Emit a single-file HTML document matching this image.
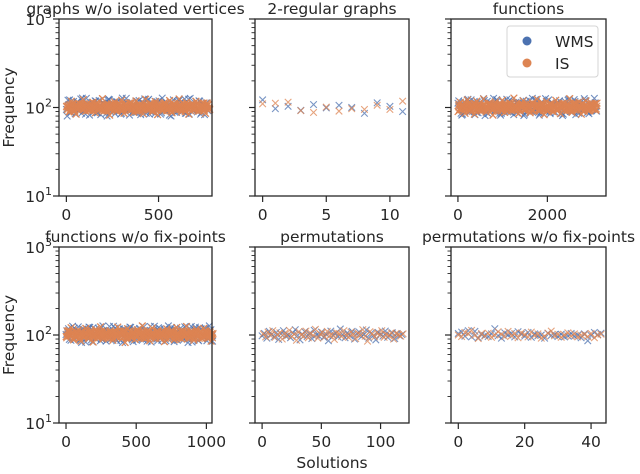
<!DOCTYPE html>
<html><head><meta charset="utf-8">
<style>
html,body{margin:0;padding:0;background:#fff;}
svg text{font-family:"DejaVu Sans","Liberation Sans",sans-serif;fill:#262626;}
</style></head>
<body>
<svg id="chart" width="640" height="469" viewBox="0 0 640 469" xmlns="http://www.w3.org/2000/svg"></svg>
<script>
// ---- data ----
const titles = ["graphs w/o isolated vertices","2-regular graphs","functions","functions w/o fix-points","permutations","permutations w/o fix-points"];
const xMaxes = [790, 11.5, 3311, 1040, 124, 44.5];
const xMins = [-40, -0.6, -155, -50, -6, -2.2];
const xTicks = [[0,500],[0,5,10],[0,2000],[0,500,1000],[0,50,100],[0,20,40]];
const xSteps = [13, 1, 52, 17.5, 2, 1];
const wms1 = [95,108,88,117,102,91,125,99,84,110,106,93,119,87,101,113,97,80,122,104,92,115,98,86,109,127,94,103,89,118,100,83,112,96,121,90,107,85,116,101,128,93,105,82,114,99,88,120,95,111,86,124,102,91,117,97,84,109,106,92];
const is1 = [103,89,118,97,84,112,100,123,91,106,95,115,87,108,99,126,93,110,82,104,116,90,101,121,86,107,96,113,88,119,94,102,85,124,98,111,90,117,83,105,100,114,92,120,87,109,97,125,89,103,115,84,106,95,118,91,101,112,86,108];
const wms2 = [122,97,103,93,108,99,106,100,86,113,103,90];
const is2 = [110,112,115,92,88,101,91,97,95,106,95,118];
const wms3 = [112,96,84,105,121,90,101,117,88,109,94,126,99,85,113,103,92,119,86,107,97,124,90,110,83,115,101,93,120,88,106,98,127,91,104,82,116,100,89,122,95,108,87,114,102,81,118,96,110,91,123,99,86,107,94,117,89,105,100,113];
const is3 = [90,115,101,86,122,97,108,84,118,93,104,125,89,111,99,82,116,95,107,121,88,102,113,92,128,98,85,109,119,94,103,87,114,100,124,91,106,83,117,96,110,89,121,99,85,112,104,93,126,88,107,97,115,84,102,119,92,108,95,111];
const wms4 = [101,118,87,110,95,124,90,106,83,115,99,121,92,108,86,127,97,112,89,104,120,94,109,82,116,100,123,88,105,96,119,91,113,85,107,98,126,90,111,87,117,102,93,122,84,106,95,114,89,110,99,125,92,103,86,118,97,108,91,115];
const is4 = [96,109,121,88,103,114,85,99,119,92,107,83,116,101,124,90,105,94,112,87,100,123,95,110,82,118,97,106,89,115,102,127,91,104,86,120,99,111,93,108,84,117,96,113,88,122,101,90,109,125,94,105,87,116,100,92,119,98,107,85];
const wms5 = [98,104,92,110,101,95,107,89,103,112,97,100,93,106,115,99,88,102,109,96,104,91,113,100,97,108,94,102,86,111,99,105,95,117,101,93,106,98,110,90,103,108,96,101,114,92,105,99,88,107,102,97,111,94,100,106,91,104,98,101];
const is5 = [103,95,108,99,112,94,101,106,90,104,98,113,96,102,87,109,100,97,111,93,105,99,116,92,103,107,95,110,98,101,89,106,104,96,112,99,94,108,102,91,105,100,115,97,85,109,103,95,107,99,112,94,102,98,106,90,104,101,97,103];
const wms6 = [104,108,97,112,95,110,93,101,99,96,103,118,98,92,106,100,104,95,109,102,97,107,94,103,98,100,92,105,99,101,96,102,95,98,104,97,100,93,103,86,99,107,101,105];
const is6 = [100,96,107,103,113,99,91,104,97,105,94,100,109,102,96,110,98,104,93,106,101,95,108,99,103,92,97,105,111,98,102,94,100,106,97,103,95,99,101,96,104,93,100,102];
const wmsSeries = [wms1,wms2,wms3,wms4,wms5,wms6];
const isSeries = [is1,is2,is3,is4,is5,is6];
const yTickExps = [1,2,3];
const seriesNames = ["WMS","IS"];

const NS = "http://www.w3.org/2000/svg";
const svg = document.getElementById('chart');
function mk(tag, attrs, parent){const e=document.createElementNS(NS,tag);for(const k in attrs)e.setAttribute(k,attrs[k]);(parent||svg).appendChild(e);return e;}
const BLUE="#4C72B0", ORANGE="#DD8452", INK="#262626";
const cols=[[59,212],[255,409],[451,606]];
const rows=[[19,196],[247,423]];

for(let p=0;p<6;p++){
  const [x0,x1]=cols[p%3], [y0,y1]=rows[Math.floor(p/3)];
  const g=mk('g',{});
  
  
  const xs=v=>x0+(v-xMins[p])/(xMaxes[p]-xMins[p])*(x1-x0);
  const ys=v=>y1-(Math.log10(v)-1)/2*(y1-y0);
  const dense=xSteps[p]>5;
  const drawSeries=(arr,color,off,name,op)=>{
    const sg=mk('g',{},g);
    
    
    arr.forEach((v,i)=>{
      const cx=xs(i*xSteps[p]+off), cy=ys(v), r=3.3;
      const m=mk('path',{d:`M${cx-r},${cy-r}L${cx+r},${cy+r}M${cx-r},${cy+r}L${cx+r},${cy-r}`,stroke:color,'stroke-width':1.1,opacity:op,fill:'none'},sg);
      
      
    });
  };
  if(dense){
    for(let k=0;k<3;k++){
      const rot=wmsSeries[p].slice(k*17).concat(wmsSeries[p].slice(0,k*17));
      drawSeries(rot,BLUE,xSteps[p]*k/3,'wms',0.8);
    }
    for(let k=0;k<8;k++){
      const src=k%2?isSeries[p]:wmsSeries[p];
      const s=(k*7)%src.length;
      const rot=src.slice(s).concat(src.slice(0,s)).map(v=>Math.sqrt(v*100));
      drawSeries(k<2?isSeries[p]:rot,ORANGE,xSteps[p]*k/8,'is',0.85);
    }
  } else {
    drawSeries(wmsSeries[p],BLUE,0,'wms',0.75);
    drawSeries(isSeries[p],ORANGE,xSteps[p]>1?xSteps[p]/2:0,'is',0.75);
  }
  const fr=mk('rect',{x:x0,y:y0,width:x1-x0,height:y1-y0,fill:'none',stroke:INK,'stroke-width':1.3},g);
  
  
  for(let e=1;e<=3;e++){
    const y=ys(Math.pow(10,e));
    mk('line',{x1:x0-6,x2:x0,y1:y,y2:y,stroke:INK,'stroke-width':1.2},g);
    if(e<3)for(let m=2;m<=9;m++){const yy=ys(m*Math.pow(10,e));mk('line',{x1:x0-3.5,x2:x0,y1:yy,y2:yy,stroke:INK,'stroke-width':0.9},g);}
  }
  if(p%3===0){
    yTickExps.forEach(e=>{
      const t=mk('text',{x:x0-7,y:ys(Math.pow(10,e))+6,'text-anchor':'end','font-size':15.5},g);
      
      
      t.textContent='10';
      const s=mk('tspan',{dy:-7,'font-size':11},t);s.textContent=String(e);
    });
    const yl=mk('text',{x:0,y:0,'text-anchor':'middle','font-size':15.5,transform:`translate(14,${(y0+y1)/2}) rotate(-90)`},g);
    
    
    yl.textContent='Frequency';
  }
  xTicks[p].forEach(v=>{
    const x=xs(v);
    mk('line',{x1:x,x2:x,y1:y1,y2:y1+6,stroke:INK,'stroke-width':1.2},g);
    const t=mk('text',{x:x,y:y1+24,'text-anchor':'middle','font-size':15.5},g);
    
    
    t.textContent=String(v);
  });
  const tt=mk('text',{x:(x0+x1)/2,y:y0-5,'text-anchor':'middle','font-size':15.5},g);
  
  
  tt.textContent=titles[p];
}
const xl=mk('text',{x:332,y:468,'text-anchor':'middle','font-size':15.5});


xl.textContent='Solutions';
const lg=mk('g',{});


mk('rect',{x:507,y:26,width:91,height:51,rx:3,fill:'#fff',stroke:'#d0d0d0','stroke-width':1,opacity:0.9},lg);
[[BLUE,41],[ORANGE,63]].forEach((c,i)=>{
  const en=mk('g',{},lg);
  
  
  mk('circle',{cx:527,cy:c[1],r:4.5,fill:c[0]},en);
  const t=mk('text',{x:555,y:c[1]+6,'font-size':15.5},en);t.textContent=seriesNames[i];
});
</script>
</body></html>
